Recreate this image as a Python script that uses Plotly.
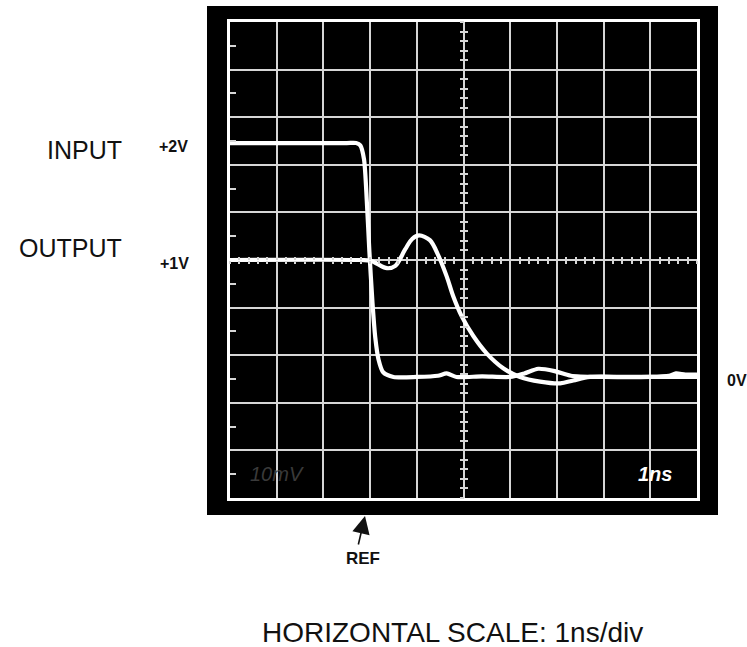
import plotly.graph_objects as go

# ---- data (time in ns relative to REF, amplitude in volts) ----
input_t = [-3.0, -0.5, -0.30, -0.21, -0.13, -0.07, -0.015, 0.05, 0.11, 0.18, 0.28, 0.50,
           1.0, 1.45, 1.64, 1.85, 2.4, 3.0, 3.3, 3.6, 3.95, 4.3, 5.0, 6.0, 6.4, 6.55, 6.75, 7.0]
input_v = [2.0, 2.0, 2.0, 1.98, 1.86, 1.50, 1.07, 0.64, 0.34, 0.15, 0.04, 0.0,
           0.0, 0.01, 0.03, 0.0, 0.005, 0.0, 0.03, 0.07, 0.05, 0.01, 0.0, 0.0, 0.01, 0.03, 0.02, 0.02]

output_t = [-3.0, -0.2, 0.0, 0.14, 0.36, 0.54, 0.75, 0.90, 1.05, 1.28, 1.46, 1.64, 1.78,
            1.96, 2.21, 2.50, 2.85, 3.21, 3.64, 4.07, 4.35, 4.71, 5.5, 7.0]
output_v = [1.0, 1.0, 0.995, 0.97, 0.93, 0.95, 1.09, 1.18, 1.21, 1.17, 1.04, 0.86, 0.69,
            0.52, 0.35, 0.20, 0.075, 0.0, -0.04, -0.055, -0.03, 0.0, 0.0, 0.0]

T_RANGE = [-3.0, 7.0]     # 10 divisions at 1 ns/div
NS_PER_DIV = 1.0
V_CENTER = 1.0
V_PER_DIV = 0.407
V_RANGE = [V_CENTER - 5 * V_PER_DIV, V_CENTER + 5 * V_PER_DIV]

# ---- layout geometry (pixels) ----
W, H = 747, 647
L, R, T, B = 230, 50, 22, 149
PW, PH = W - L - R, H - T - B


def px(x):
    return (x - L) / PW


def py(y):
    return (H - B - y) / PH


FONT = "Liberation Sans, Arial, sans-serif"
TXT = "#111111"
GRID = "#d6d6d6"

fig = go.Figure()

fig.add_trace(go.Scatter(x=input_t, y=input_v, mode="lines", name="INPUT",
                         line=dict(color="white", width=4.2, shape="spline", smoothing=0.7),
                         hoverinfo="skip"))
fig.add_trace(go.Scatter(x=output_t, y=output_v, mode="lines", name="OUTPUT",
                         line=dict(color="white", width=4.2, shape="spline", smoothing=0.9),
                         hoverinfo="skip"))
# carriers for the centre-line graticule tick axes
for xa, ya in [("x2", "y"), ("x3", "y"), ("x", "y2"), ("x", "y3")]:
    fig.add_trace(go.Scatter(x=[None], y=[None], xaxis=xa, yaxis=ya, mode="lines",
                             showlegend=False, hoverinfo="skip"))

axis_common = dict(showticklabels=False, zeroline=False)

xaxis = dict(range=T_RANGE, tickmode="linear", tick0=T_RANGE[0], dtick=NS_PER_DIV,
             showgrid=True, gridcolor=GRID, gridwidth=2, ticks="",
             showline=True, linecolor="white", linewidth=3, mirror=True, **axis_common)
yaxis = dict(range=V_RANGE, tickmode="linear", tick0=V_CENTER, dtick=V_PER_DIV,
             showgrid=True, gridcolor=GRID, gridwidth=2, ticks="",
             showline=True, linecolor="white", linewidth=3, mirror=True,
             minor=dict(ticks="inside", tickmode="linear", tick0=V_CENTER, dtick=V_PER_DIV / 2,
                        ticklen=6, tickwidth=1.6, tickcolor=GRID, showgrid=False),
             **axis_common)


def center_x(direction):
    return dict(overlaying="x", anchor="free", position=0.5, range=T_RANGE,
                tickmode="linear", tick0=T_RANGE[0], dtick=NS_PER_DIV / 5,
                ticks=direction, ticklen=3, tickwidth=1.6, tickcolor=GRID,
                showgrid=False, showline=False, **axis_common)


def center_y(direction):
    return dict(overlaying="y", anchor="free", position=0.5, range=V_RANGE,
                tickmode="linear", tick0=V_CENTER, dtick=V_PER_DIV / 5,
                ticks=direction, ticklen=3.5, tickwidth=1.6, tickcolor=GRID,
                showgrid=False, showline=False, **axis_common)


annotations = [
    dict(text="INPUT", x=px(124), y=py(150), xanchor="right", yanchor="middle",
         font=dict(size=25, color=TXT, family=FONT)),
    dict(text="OUTPUT", x=px(124), y=py(248), xanchor="right", yanchor="middle",
         font=dict(size=25, color=TXT, family=FONT)),
    dict(text="<b>+2V</b>", x=px(157), y=py(147), xanchor="left", yanchor="middle",
         font=dict(size=16, color=TXT, family=FONT)),
    dict(text="<b>+1V</b>", x=px(158), y=py(263), xanchor="left", yanchor="middle",
         font=dict(size=16, color=TXT, family=FONT)),
    dict(text="<b>0V</b>", x=px(725), y=py(380), xanchor="left", yanchor="middle",
         font=dict(size=16, color=TXT, family=FONT)),
    dict(text="<b>REF</b>", x=px(363), y=py(558), xanchor="center", yanchor="middle",
         font=dict(size=17, color=TXT, family=FONT)),
    dict(text="HORIZONTAL SCALE: 1ns/div", x=px(452), y=py(632), xanchor="center",
         yanchor="middle", font=dict(size=28, color=TXT, family=FONT)),
    dict(text="<b><i>1ns</i></b>", x=px(655), y=py(474), xanchor="center", yanchor="middle",
         font=dict(size=20, color="white", family=FONT)),
    dict(text="<i>10mV</i>", x=px(277), y=py(474), xanchor="center", yanchor="middle",
         font=dict(size=20, color="#3a3a3a", family=FONT)),
    dict(text="", x=px(365), y=py(516), ax=-7, ay=30, showarrow=True,
         arrowhead=2, arrowsize=2.2, arrowwidth=1.6, arrowcolor="#111"),
]
for a in annotations:
    a.setdefault("showarrow", False)
    a["xref"] = "paper"
    a["yref"] = "paper"

fig.update_layout(
    width=W, height=H, autosize=False,
    margin=dict(l=L, r=R, t=T, b=B, pad=0),
    paper_bgcolor="white", plot_bgcolor="black",
    showlegend=False,
    xaxis=xaxis, yaxis=yaxis,
    xaxis2=center_x("outside"), xaxis3=center_x("inside"),
    yaxis2=center_y("outside"), yaxis3=center_y("inside"),
    shapes=[dict(type="rect", xref="paper", yref="paper", layer="below",
                 x0=px(207), x1=px(718), y0=py(515), y1=py(6),
                 fillcolor="black", line=dict(width=0))],
    annotations=annotations,
)

fig.write_html(
    "out.html",
    config={"displayModeBar": False},
    post_script="document.body.style.margin='0';document.body.style.overflow='hidden';",
)
